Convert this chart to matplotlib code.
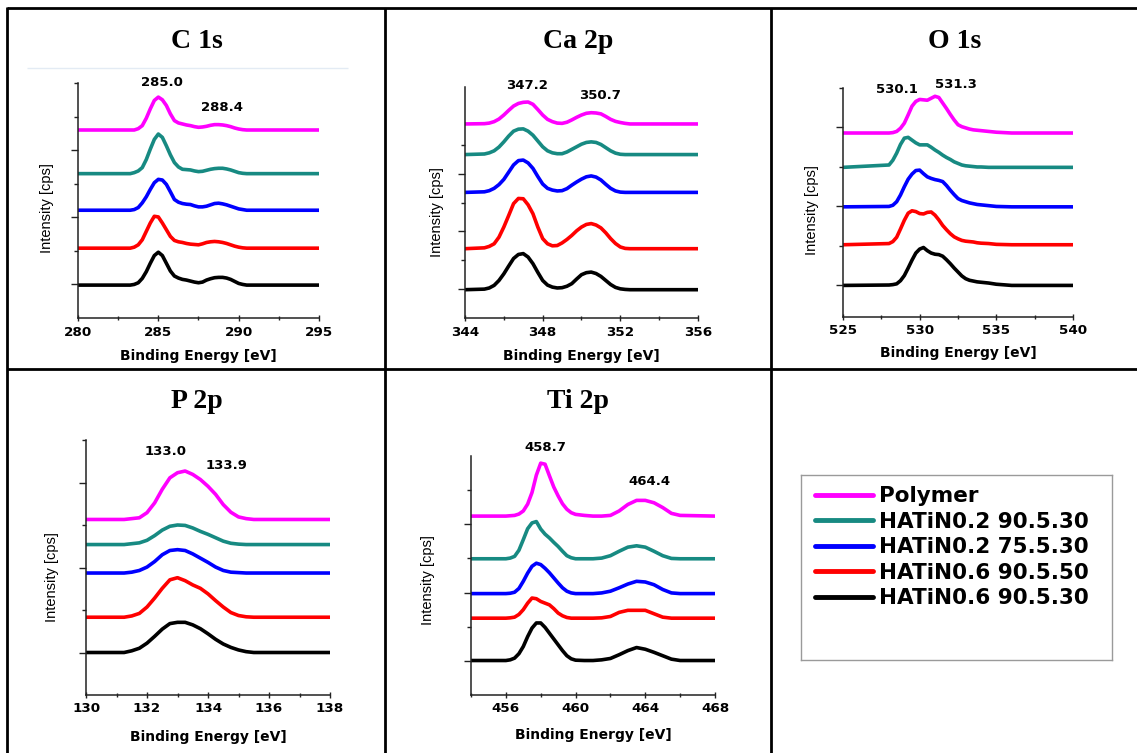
"""XPS 高解析能譜 (C 1s / Ca 2p / O 1s / P 2p / Ti 2p) 表格式排版"""
import matplotlib.pyplot as plt
from matplotlib.lines import Line2D

W, H = 1137, 753

series_names = ['Polymer', 'HATiN0.2 90.5.30', 'HATiN0.2 75.5.30',
                'HATiN0.6 90.5.50', 'HATiN0.6 90.5.30']
series_colors = ['#ff00ff', '#178a82', '#0000ff', '#ff0000', '#000000']

# 每個面板: 能量軸, 各曲線基線 (堆疊位移), 各曲線相對基線的強度
# 曲線順序同 series_names

# C 1s
c1s_energy = [280,
              283.25, 283.5, 283.75, 284, 284.25, 284.5, 284.75, 285, 285.25, 285.5,
              285.75, 286, 286.25, 286.5, 286.75, 287, 287.25, 287.5, 287.75, 288,
              288.25, 288.5, 288.75, 289, 289.25, 289.5, 289.75, 290, 290.25, 290.5,
              295]
c1s_base = [5.60, 4.30, 3.21, 2.08, 0.98]
c1s_height = [
    [0, 0, 0, 0.04, 0.13, 0.35, 0.63, 0.88, 0.98, 0.90, 0.73, 0.48, 0.28, 0.21, 0.18, 0.15,
     0.13, 0.10, 0.08, 0.09, 0.11, 0.14, 0.16, 0.16, 0.15, 0.13, 0.10, 0.06, 0.03, 0.01, 0, 0],
    [0, 0, 0.03, 0.08, 0.18, 0.42, 0.73, 1.02, 1.18, 1.08, 0.83, 0.56, 0.33, 0.20, 0.13, 0.12,
     0.11, 0.08, 0.06, 0.07, 0.10, 0.13, 0.15, 0.16, 0.16, 0.14, 0.11, 0.07, 0.03, 0.01, 0, 0],
    [0, 0, 0.02, 0.08, 0.22, 0.40, 0.62, 0.82, 0.92, 0.90, 0.77, 0.55, 0.32, 0.24, 0.20, 0.18,
     0.17, 0.13, 0.10, 0.10, 0.12, 0.16, 0.20, 0.21, 0.19, 0.16, 0.12, 0.08, 0.04, 0.02, 0, 0],
    [0, 0, 0.03, 0.10, 0.25, 0.50, 0.75, 0.95, 0.93, 0.75, 0.55, 0.35, 0.23, 0.19, 0.17, 0.14,
     0.12, 0.11, 0.10, 0.13, 0.17, 0.19, 0.20, 0.19, 0.17, 0.14, 0.10, 0.06, 0.03, 0.01, 0, 0],
    [0, 0, 0.02, 0.07, 0.20, 0.40, 0.65, 0.88, 0.98, 0.88, 0.65, 0.42, 0.27, 0.21, 0.17, 0.15,
     0.12, 0.09, 0.07, 0.09, 0.15, 0.19, 0.22, 0.23, 0.23, 0.21, 0.17, 0.11, 0.05, 0.02, 0, 0],
]
c1s_peaks = ['285.0', '288.4']

# Ca 2p
ca2p_energy = [344,
               345, 345.25, 345.5, 345.75, 346, 346.25, 346.5, 346.75, 347, 347.25, 347.5,
               347.75, 348, 348.25, 348.5, 348.75, 349, 349.25, 349.5, 349.75, 350,
               350.25, 350.5, 350.75, 351, 351.25, 351.5, 351.75, 352, 352.25, 352.5,
               356]
ca2p_base = [6.72, 5.66, 4.35, 2.40, 0.98]
ca2p_height = [
    [0, 0.01, 0.03, 0.08, 0.17, 0.31, 0.47, 0.62, 0.71, 0.75, 0.76, 0.68, 0.50, 0.31, 0.16, 0.08,
     0.03, 0.02, 0.06, 0.14, 0.23, 0.31, 0.37, 0.39, 0.38, 0.35, 0.26, 0.16, 0.09, 0.05, 0.02, 0, 0],
    [0, 0.02, 0.06, 0.13, 0.26, 0.44, 0.64, 0.81, 0.88, 0.89, 0.81, 0.67, 0.47, 0.27, 0.13, 0.06,
     0.03, 0.03, 0.09, 0.18, 0.27, 0.36, 0.42, 0.44, 0.42, 0.35, 0.24, 0.13, 0.05, 0.01, 0, 0, 0],
    [0, 0.02, 0.06, 0.14, 0.27, 0.45, 0.70, 0.95, 1.10, 1.12, 1.02, 0.83, 0.55, 0.29, 0.14, 0.08,
     0.05, 0.06, 0.13, 0.25, 0.36, 0.46, 0.54, 0.57, 0.53, 0.43, 0.28, 0.14, 0.05, 0.01, 0, 0, 0],
    [0, 0.03, 0.08, 0.17, 0.40, 0.75, 1.15, 1.56, 1.74, 1.73, 1.52, 1.21, 0.75, 0.35, 0.17, 0.10,
     0.11, 0.20, 0.32, 0.46, 0.62, 0.75, 0.84, 0.87, 0.82, 0.72, 0.55, 0.35, 0.18, 0.06, 0.01, 0, 0],
    [0, 0.02, 0.06, 0.15, 0.32, 0.55, 0.82, 1.08, 1.22, 1.25, 1.13, 0.90, 0.60, 0.32, 0.16, 0.09,
     0.06, 0.07, 0.12, 0.21, 0.37, 0.52, 0.59, 0.61, 0.56, 0.46, 0.32, 0.18, 0.08, 0.03, 0.01, 0, 0],
]
ca2p_peaks = ['347.2', '350.7']

# O 1s
o1s_energy = [525,
              528, 528.25, 528.5, 528.75, 529, 529.25, 529.5, 529.75, 530, 530.25, 530.5,
              530.75, 531, 531.25, 531.5, 531.75, 532, 532.25, 532.5, 532.75, 533,
              533.25, 533.5, 533.75, 534, 534.5, 535, 536,
              540]
o1s_base = [4.86, 3.99, 2.99, 2.03, 1.00]
o1s_height = [
    [0, 0, 0.01, 0.04, 0.12, 0.25, 0.46, 0.68, 0.80, 0.85, 0.84, 0.83, 0.88, 0.93, 0.90, 0.76,
     0.62, 0.47, 0.33, 0.21, 0.16, 0.13, 0.10, 0.08, 0.07, 0.06, 0.04, 0.02, 0, 0],
    [0, 0.06, 0.18, 0.36, 0.58, 0.74, 0.76, 0.69, 0.62, 0.57, 0.57, 0.57, 0.51, 0.44, 0.38, 0.31,
     0.25, 0.20, 0.14, 0.10, 0.06, 0.04, 0.03, 0.02, 0.01, 0.01, 0, 0, 0, 0],
    [0, 0.01, 0.04, 0.13, 0.30, 0.51, 0.70, 0.83, 0.92, 0.93, 0.84, 0.76, 0.72, 0.69, 0.67, 0.64,
     0.54, 0.42, 0.31, 0.21, 0.16, 0.13, 0.10, 0.08, 0.06, 0.05, 0.03, 0.01, 0, 0],
    [0, 0.03, 0.08, 0.19, 0.40, 0.62, 0.80, 0.86, 0.84, 0.79, 0.78, 0.82, 0.83, 0.75, 0.63, 0.49,
     0.38, 0.28, 0.20, 0.15, 0.11, 0.09, 0.08, 0.07, 0.05, 0.04, 0.03, 0.01, 0, 0],
    [0, 0.01, 0.02, 0.04, 0.12, 0.25, 0.44, 0.64, 0.82, 0.92, 0.96, 0.88, 0.82, 0.79, 0.78, 0.74,
     0.65, 0.55, 0.44, 0.34, 0.24, 0.17, 0.13, 0.11, 0.09, 0.08, 0.06, 0.03, 0, 0],
]
o1s_peaks = ['530.1', '531.3']

# P 2p
p2p_energy = [130, 131.25, 131.5, 131.75, 132, 132.25, 132.5, 132.75, 133, 133.25,
              133.5, 133.75, 134, 134.25, 134.5, 134.75, 135, 135.25, 135.5, 138]
p2p_base = [4.13, 3.54, 2.87, 1.83, 1.00]
p2p_height = [
    [0, 0, 0.02, 0.04, 0.16, 0.39, 0.71, 0.98, 1.10, 1.14, 1.06, 0.94, 0.78, 0.59, 0.35, 0.17, 0.06, 0.02, 0, 0],
    [0, 0, 0.02, 0.04, 0.10, 0.21, 0.34, 0.43, 0.46, 0.45, 0.39, 0.31, 0.24, 0.16, 0.08, 0.03, 0.01, 0, 0, 0],
    [0, 0, 0.02, 0.06, 0.14, 0.27, 0.43, 0.53, 0.55, 0.53, 0.45, 0.35, 0.25, 0.14, 0.06, 0.02, 0.01, 0, 0, 0],
    [0, 0, 0.03, 0.09, 0.24, 0.45, 0.68, 0.88, 0.93, 0.86, 0.76, 0.68, 0.55, 0.39, 0.24, 0.11, 0.04, 0.01, 0, 0],
    [0, 0, 0.04, 0.10, 0.22, 0.38, 0.55, 0.68, 0.71, 0.71, 0.65, 0.56, 0.44, 0.31, 0.20, 0.12, 0.06, 0.02, 0, 0],
]
p2p_peaks = ['133.0', '133.9']

# Ti 2p
ti2p_energy = [454,
               456, 456.25, 456.5, 456.75, 457, 457.25, 457.5, 457.75, 458, 458.25, 458.5,
               458.75, 459, 459.25, 459.5, 459.75, 460,
               460.5, 461, 461.5, 462, 462.5, 463, 463.5, 464, 464.5, 465, 465.5, 466,
               468]
ti2p_base = [5.24, 3.99, 2.97, 2.25, 1.01]
ti2p_height = [
    [0, 0, 0.01, 0.02, 0.06, 0.15, 0.35, 0.69, 1.20, 1.55, 1.52, 1.18, 0.85, 0.59, 0.36, 0.20, 0.10, 0.05,
     0.02, 0, 0, 0.02, 0.15, 0.34, 0.46, 0.46, 0.39, 0.25, 0.08, 0.02, 0],
    [0, 0, 0.02, 0.07, 0.25, 0.56, 0.88, 1.05, 1.09, 0.87, 0.72, 0.61, 0.48, 0.36, 0.22, 0.09, 0.03, 0,
     0, 0, 0.02, 0.09, 0.22, 0.34, 0.38, 0.34, 0.22, 0.09, 0.01, 0, 0],
    [0, 0, 0.01, 0.04, 0.15, 0.36, 0.60, 0.80, 0.89, 0.85, 0.74, 0.61, 0.46, 0.31, 0.17, 0.07, 0.02, 0,
     0, 0, 0.02, 0.07, 0.17, 0.28, 0.36, 0.34, 0.26, 0.12, 0.02, 0, 0],
    [0, 0, 0.01, 0.03, 0.11, 0.25, 0.44, 0.59, 0.57, 0.49, 0.44, 0.39, 0.28, 0.15, 0.07, 0.02, 0, 0,
     0, 0, 0.01, 0.05, 0.17, 0.23, 0.23, 0.23, 0.13, 0.03, 0, 0, 0],
    [0, 0, 0.02, 0.07, 0.20, 0.41, 0.70, 0.95, 1.10, 1.10, 0.97, 0.80, 0.63, 0.46, 0.29, 0.14, 0.05, 0.01,
     0, 0, 0.02, 0.06, 0.17, 0.29, 0.38, 0.33, 0.24, 0.14, 0.04, 0, 0],
]
ti2p_peaks = ['458.7', '464.4']


# 版面 (像素座標, 原點在左上)
panels = [
    dict(title='C 1s', x=c1s_energy, base=c1s_base, h=c1s_height, peaks=c1s_peaks,
         box=(78, 83, 319, 318), xlim=(280, 295), xticks=[280, 285, 290, 295], xminor=[282.5, 287.5, 292.5],
         ylim=(0, 7), yminor=[2, 4, 6, 7], peak_pos=[(285.2, 7.02), (288.96, 6.28)],
         title_xy=(197, 42), tick_y=332, xlabel_y=356, ylabel_xy=(47, 208)),
    dict(title='Ca 2p', x=ca2p_energy, base=ca2p_base, h=ca2p_height, peaks=ca2p_peaks,
         box=(465, 87, 698, 318), xlim=(344, 356), xticks=[344, 348, 352, 356], xminor=[346, 350, 354],
         ylim=(0, 8), yminor=[2, 4, 6], peak_pos=[(347.19, 8.06), (350.95, 7.72)],
         title_xy=(578, 42), tick_y=332, xlabel_y=356, ylabel_xy=(437, 212)),
    dict(title='O 1s', x=o1s_energy, base=o1s_base, h=o1s_height, peaks=o1s_peaks,
         box=(843, 88, 1073, 317), xlim=(525, 540), xticks=[525, 530, 535, 540], xminor=[527.5, 532.5, 537.5],
         ylim=(0.2, 6), yminor=[2, 4, 6], peak_pos=[(528.52, 5.97), (532.37, 6.10)],
         title_xy=(955, 42), tick_y=330, xlabel_y=353, ylabel_xy=(812, 210)),
    dict(title='P 2p', x=p2p_energy, base=p2p_base, h=p2p_height, peaks=p2p_peaks,
         box=(86, 440, 330, 695), xlim=(130, 138), xticks=[130, 132, 134, 136, 138], xminor=[131, 133, 135, 137],
         ylim=(0, 6), yminor=[2, 4, 6], peak_pos=[(132.62, 5.72), (134.62, 5.41)],
         title_xy=(197, 402), tick_y=709, xlabel_y=737, ylabel_xy=(52, 577)),
    dict(title='Ti 2p', x=ti2p_energy, base=ti2p_base, h=ti2p_height, peaks=ti2p_peaks,
         box=(471, 456, 715, 695), xlim=(454, 468), xticks=[456, 460, 464, 468], xminor=[454, 458, 462, 466],
         ylim=(0, 7), yminor=[2, 4, 6], peak_pos=[(458.25, 7.24), (464.27, 6.25)],
         title_xy=(578, 402), tick_y=709, xlabel_y=735, ylabel_xy=(428, 580)),
]

fig = plt.figure(figsize=(W / 100, H / 100), dpi=100)
fig.patch.set_facecolor('white')


def fx(px):
    return px / W


def fy(py):
    return 1 - py / H


def ftext(x, y, s, **kw):
    kw.setdefault('ha', 'center')
    kw.setdefault('va', 'center')
    fig.text(fx(x), fy(y), s, **kw)


# 表格框線
def fline(x0, y0, x1, y1, color='black', lw=2.0):
    fig.add_artist(Line2D([fx(x0), fx(x1)], [fy(y0), fy(y1)], color=color,
                          linewidth=lw, transform=fig.transFigure, solid_capstyle='butt'))


fline(7, 8, W, 8)
fline(7, 7, 7, H)
fline(7, 369, W, 369)
fline(385, 8, 385, H)
fline(771, 8, 771, H)
fline(27, 68, 348, 68, color='#e3ebf4', lw=1.0)

tick_font = dict(family='DejaVu Sans', fontweight='bold', fontsize=9.7)

for p in panels:
    l, t, r, b = p['box']
    ax = fig.add_axes([fx(l), fy(b), (r - l) / W, (b - t) / H])
    ax.patch.set_alpha(0)

    for i in range(len(series_names)):
        y = [p['base'][i] + v for v in p['h'][i]]
        ax.plot(p['x'], y, color=series_colors[i], linewidth=2.6,
                solid_joinstyle='round', solid_capstyle='round')

    ax.set_xlim(*p['xlim'])
    ax.set_ylim(*p['ylim'])
    ax.set_xticks(p['xticks'])
    ax.set_xticks(p['xminor'], minor=True)
    ax.set_xticklabels([])
    ax.set_yticks([1, 3, 5])
    ax.set_yticks(p['yminor'], minor=True)
    ax.set_yticklabels([])

    for side in ['top', 'right']:
        ax.spines[side].set_visible(False)
    for side in ['left', 'bottom']:
        ax.spines[side].set_color('#222222')
        ax.spines[side].set_linewidth(1.1)

    ax.tick_params(axis='x', which='major', direction='inout', length=5, width=1, color='#222222')
    ax.tick_params(axis='x', which='minor', direction='inout', length=3, width=1, color='#222222')
    ax.tick_params(axis='y', which='major', direction='out', length=5, width=1, color='#222222')
    ax.tick_params(axis='y', which='minor', direction='out', length=3, width=1, color='#222222')

    # x 刻度標籤 (固定在像素位置)
    x0, x1 = p['xlim']
    for v in p['xticks']:
        px = l + (v - x0) / (x1 - x0) * (r - l)
        ftext(px, p['tick_y'], str(v), **tick_font)

    # 峰位標示
    for s, (xv, yv) in zip(p['peaks'], p['peak_pos']):
        ax.text(xv, yv, s, ha='center', va='center', clip_on=False,
                family='DejaVu Sans', fontweight='bold', fontsize=9.5)

    ftext((l + r) / 2, p['xlabel_y'], 'Binding Energy [eV]',
          family='DejaVu Sans', fontweight='bold', fontsize=10)
    ftext(p['ylabel_xy'][0], p['ylabel_xy'][1], 'Intensity [cps]', rotation=90,
          family='Liberation Sans', fontsize=10.5)
    ftext(p['title_xy'][0], p['title_xy'][1], p['title'],
          family='Liberation Serif', fontweight='bold', fontsize=20)

# 圖例 (右下格)
ax_leg = fig.add_axes([fx(801), fy(660), (1112 - 801) / W, (660 - 475) / H])
ax_leg.set_xticks([])
ax_leg.set_yticks([])
for sp in ax_leg.spines.values():
    sp.set_color('#9a9a9a')
    sp.set_linewidth(1.0)

handles = [Line2D([0], [0], color=c, linewidth=3.5, solid_capstyle='round')
           for c in series_colors]
ax_leg.legend(handles, series_names, loc='upper left', bbox_to_anchor=(0.045, 0.94),
              frameon=False, borderaxespad=0, borderpad=0, handlelength=2.7,
              handletextpad=0.25, labelspacing=0.26,
              prop=dict(family='DejaVu Sans', weight='bold', size=15.5))

fig.savefig('out.png', dpi=100)
